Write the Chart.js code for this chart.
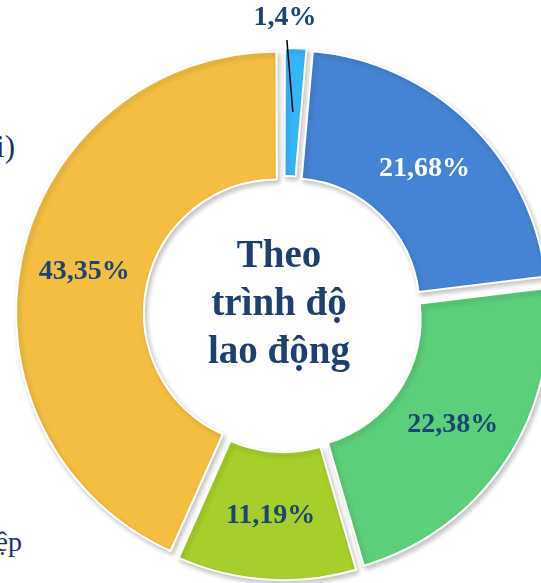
<!DOCTYPE html>
<html>
<head>
<meta charset="utf-8">
<script src="https://cdn.jsdelivr.net/npm/chart.js@4"></script>
<style>
    html, body { margin: 0; padding: 0; background: #fff; }
    body { width: 541px; height: 583px; overflow: hidden; position: relative; }
    #wrap { position: absolute; left: -36px; top: -6px; width: 640px; height: 640px; }
    .side { position: absolute; font-family: "Liberation Serif", serif; color: #1c2f6c; font-size: 31px; line-height: 1; white-space: nowrap; }
</style>
</head>
<body>
<div class="side" style="right:526px; top:131px;">i)</div>
<div class="side" style="right:519px; top:528px; font-size:28px;">ệp</div>
<div id="wrap"><canvas id="pie" width="640" height="640"></canvas></div>
<script>
(function () {
    'use strict';

    // ── 資料 ─────────────────────────────────────────────
    var LABELS  = ['1,4%', '21,68%', '22,38%', '11,19%', '43,35%'];
    var VALUES  = [1.4, 21.68, 22.38, 11.19, 43.35];
    var COLORS  = ['#35b6fc', '#4584d4', '#5bcf7a', '#a6cf2b', '#f4be42'];
    var TEXT_COLORS = ['#1b4473', '#ffffff', '#1b4473', '#1b4473', '#1b4473'];
    var OFFSETS = [19, 36, 36, 27, 28];
    var CENTER_LINES = ['Theo', 'trình độ', 'lao động'];

    var LABEL_FONT  = 'bold 28px "Liberation Serif"';
    var CENTER_FONT = 'bold 39px "Liberation Serif"';

    // 陰影：在畫扇形前打開，畫完關閉
    var shadowPlugin = {
        id: 'shadow',
        beforeDatasetsDraw: function (chart) {
            var ctx = chart.ctx;
            ctx.save();
            ctx.shadowColor = 'rgba(0,0,0,0.22)';
            ctx.shadowBlur = 5;
            ctx.shadowOffsetX = 2;
            ctx.shadowOffsetY = 3;
        },
        afterDatasetsDraw: function (chart) {
            chart.ctx.restore();
        }
    };

    // 百分比標籤 + 中央文字
    var labelPlugin = {
        id: 'arcLabels',
        afterDraw: function (chart) {
            var ctx = chart.ctx;
            var arcs = chart.getDatasetMeta(0).data;
            ctx.save();
            ctx.textAlign = 'center';
            ctx.textBaseline = 'middle';
            ctx.font = LABEL_FONT;

            arcs.forEach(function (el, i) {
                var circ = el.endAngle - el.startAngle;
                var mid = (el.startAngle + el.endAngle) / 2;
                var t = OFFSETS[i] / 4;
                var g = t * (1 - Math.sin(Math.min(Math.PI, circ)));
                var r = (el.innerRadius + el.outerRadius) / 2 + g;
                var x = el.x + Math.cos(mid) * (r + t);
                var y = el.y + Math.sin(mid) * (r + t);

                if (circ < 0.2) {
                    // 小扇形：標籤放外側，加引線
                    var la = el.startAngle + circ * 0.12;
                    var r1 = el.outerRadius + 17;
                    ctx.strokeStyle = '#000';
                    ctx.lineWidth = 1.5;
                    ctx.beginPath();
                    ctx.moveTo(x, y);
                    ctx.lineTo(el.x + Math.cos(la) * r1, el.y + Math.sin(la) * r1);
                    ctx.stroke();
                    var r2 = el.outerRadius + 39;
                    x = el.x + Math.cos(el.startAngle + 0.003) * r2;
                    y = el.y + Math.sin(el.startAngle + 0.003) * r2;
                }
                ctx.fillStyle = TEXT_COLORS[i];
                ctx.fillText(LABELS[i], x, y);
            });

            var cx = arcs[0].x - 5;
            var cy = arcs[0].y;
            ctx.font = CENTER_FONT;
            ctx.fillStyle = '#1f3f6e';
            ctx.textBaseline = 'alphabetic';
            CENTER_LINES.forEach(function (line, i) {
                ctx.fillText(line, cx, cy - 47 + i * 48);
            });
            ctx.restore();
        }
    };

    new Chart(document.getElementById('pie').getContext('2d'), {
        type: 'doughnut',
        data: {
            labels: LABELS,
            datasets: [{
                data: VALUES,
                backgroundColor: COLORS,
                borderColor: '#ffffff',
                borderWidth: 2,
                offset: OFFSETS
            }]
        },
        options: {
            responsive: false,
            animation: false,
            radius: 257,
            cutout: '50.2%',
            layout: { padding: 0 },
            plugins: {
                legend: { display: false },
                tooltip: { enabled: false }
            }
        },
        plugins: [shadowPlugin, labelPlugin]
    });
})();
</script>
</body>
</html>
